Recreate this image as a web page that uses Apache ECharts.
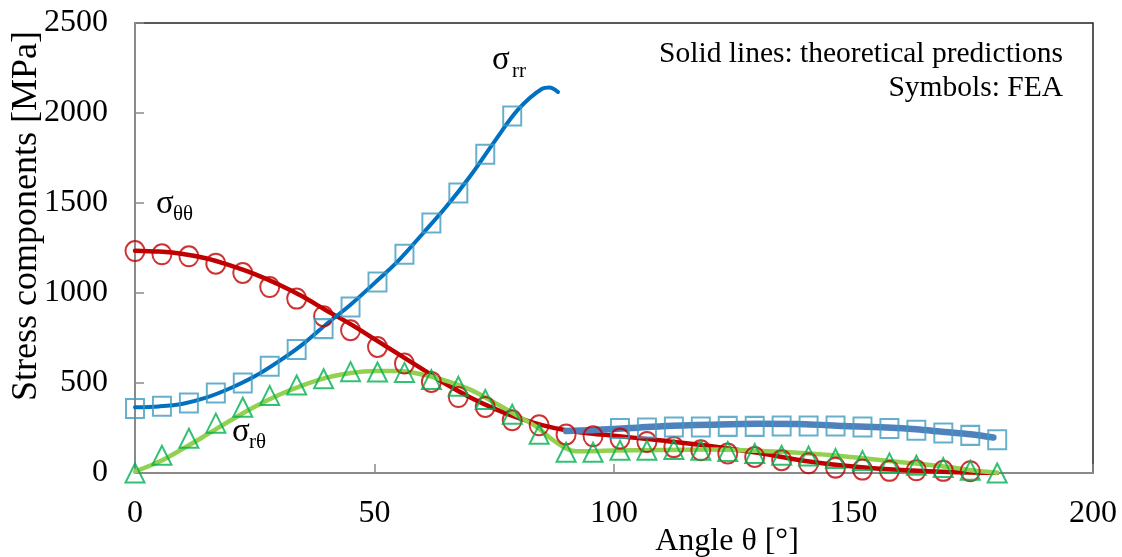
<!DOCTYPE html>
<html>
<head>
<meta charset="utf-8">
<script src="https://cdn.jsdelivr.net/npm/echarts@6/dist/echarts.min.js"></script>
<style>
html,body{margin:0;padding:0;background:#fff;}
#c{width:1122px;height:557px;}
</style>
</head>
<body>
<div id="c"></div>
<script>
// ---- Data ----
const feaAngles = [0, 5.625, 11.25, 16.875, 22.5, 28.125, 33.75, 39.375, 45, 50.625, 56.25, 61.875, 67.5, 73.125, 78.75, 84.375, 90,
  95.625, 101.25, 106.875, 112.5, 118.125, 123.75, 129.375, 135, 140.625, 146.25, 151.875, 157.5, 163.125, 168.75, 174.375, 180];
const sttFEA = [1233, 1215, 1204, 1163, 1111, 1033, 969, 871, 793, 700, 608, 506, 422, 367, 293, 265, 214,
  204, 191, 172, 144, 126, 108, 89, 71, 54, 30, 19, 12, 15, 12, 10, null];
const srrFEA = [358, 371, 389, 444, 500, 593, 686, 802, 922, 1061, 1215, 1389, 1556, 1771, 1983, null, null,
  null, 247, 250, 256, 256, 259, 259, 261, 261, 261, 256, 247, 237, 222, 209, 185];
const srtFEA = [0, 98, 193, 277, 365, 430, 489, 524, 563, 561, 559, 519, 482, 408, 326, 215, 115,
  115, 126, 126, 130, 126, 120, 108, 98, 94, 80, 69, 56, 43, 30, 15, 0];

const sttLineX = [0, 5, 10, 15, 20, 25, 30, 35, 40, 45, 50, 55, 60, 65, 70, 75, 80, 85, 90, 95, 100, 110, 120, 130, 140, 150, 160, 170, 180];
const sttLineY = [1235, 1230, 1217, 1192, 1152, 1105, 1047, 980, 902, 827, 744, 660, 577, 493, 420, 358, 306, 266, 237, 220, 207, 180, 150, 112, 67, 36, 16, 5, 0];

const srrLineX = [0, 5, 10, 15, 20, 25, 30, 35, 40, 45, 50, 55, 60, 65, 70, 75, 80, 85, 86.5, 88.3];
const srrLineY = [365, 370, 385, 420, 472, 537, 620, 715, 828, 935, 1055, 1180, 1328, 1480, 1650, 1840, 2020, 2135, 2142, 2117];

const srr2LineX = [90, 95, 100, 105, 110, 120, 130, 140, 148, 158, 163, 169, 174.4, 179.2];
const srr2LineY = [233, 238, 245, 252, 260, 268, 273, 271, 261, 252, 243, 228, 215, 197];

const srtLineX = [0, 5, 10, 15, 20, 25, 30, 35, 40, 45, 50, 55, 60, 65, 70, 75, 80, 84, 87, 90, 92, 95, 100, 110, 120, 130, 135, 140, 145, 150, 155, 160, 165, 170, 175, 180];
const srtLineY = [8, 62, 135, 213, 293, 368, 433, 487, 530, 556, 567, 567, 547, 512, 463, 392, 316, 253, 188, 136, 121, 121, 125, 128, 130, 124, 118, 110, 100, 87, 74, 60, 47, 33, 14, 2];

const xTicks = [0, 50, 100, 150, 200];
const yTicks = [0, 500, 1000, 1500, 2000, 2500];

// ---- helpers ----
const pairs = (xs, ys) => xs.map((x, i) => [x, ys[i]]).filter(p => p[1] !== null);
const FONT = '"Liberation Serif", "Times New Roman", serif';

const chart = echarts.init(document.getElementById('c'), null, {renderer: 'canvas'});

function lineSeries(name, xs, ys, color, width) {
  return {
    name, type: 'line', data: pairs(xs, ys), smooth: 0.35, showSymbol: false,
    lineStyle: {color, width, cap: 'round', join: 'round'}, itemStyle: {color}, z: 3
  };
}
function scatterSeries(name, ys, symbol, color, size) {
  return {
    name, type: 'scatter', data: pairs(feaAngles, ys), symbol, symbolSize: size,
    itemStyle: {color: 'rgba(0,0,0,0)', borderColor: color, borderWidth: 2}, z: 4
  };
}

const option = {
  animation: false,
  backgroundColor: '#fff',
  grid: {left: 135, right: 29, top: 23, bottom: 84, containLabel: false, outerBoundsMode: 'none',
    show: true, borderColor: '#222', borderWidth: 1.5},
  xAxis: {
    type: 'value', min: 0, max: 200, interval: 50,
    name: 'Angle θ [°]', nameLocation: 'middle', nameGap: 53, nameMoveOverlap: false,
    nameTextStyle: {fontFamily: FONT, fontSize: 32, color: '#000', padding: [0, 0, 0, 226]},
    axisLine: {show: true, lineStyle: {color: '#8a8a8a', width: 2}},
    axisTick: {show: true, inside: true, length: 9, lineStyle: {color: '#8a8a8a', width: 1.5}},
    axisLabel: {fontFamily: FONT, fontSize: 32, color: '#000', margin: 25,
      formatter: v => xTicks.includes(v) ? String(v) : ''},
    splitLine: {show: false}
  },
  yAxis: {
    type: 'value', min: 0, max: 2500, interval: 500,
    name: 'Stress components [MPa]', nameLocation: 'middle', nameGap: 90, nameMoveOverlap: false,
    nameTextStyle: {fontFamily: FONT, fontSize: 36, color: '#000', padding: [0, 0, 0, 64]},
    axisLine: {show: true, lineStyle: {color: '#8a8a8a', width: 2}},
    axisTick: {show: true, inside: true, length: 9, lineStyle: {color: '#8a8a8a', width: 1.5}},
    axisLabel: {fontFamily: FONT, fontSize: 32, color: '#000', margin: 27,
      formatter: v => yTicks.includes(v) ? String(v) : ''},
    splitLine: {show: false}
  },
  graphic: [
    {type: 'text', style: {text: 'Solid lines: theoretical predictions', x: 1063, y: 54, align: 'right', verticalAlign: 'middle', font: '29.5px ' + FONT, fill: '#000'}},
    {type: 'text', style: {text: 'Symbols: FEA', x: 1063, y: 88, align: 'right', verticalAlign: 'middle', font: '29.5px ' + FONT, fill: '#000'}},
    {type: 'text', style: {text: 'σ', x: 492, y: 60, align: 'left', verticalAlign: 'middle', font: '33px ' + FONT, fill: '#000'}},
    {type: 'text', style: {text: 'rr', x: 512, y: 71, align: 'left', verticalAlign: 'middle', font: '21px ' + FONT, fill: '#000'}},
    {type: 'text', style: {text: 'σ', x: 156, y: 204, align: 'left', verticalAlign: 'middle', font: '33px ' + FONT, fill: '#000'}},
    {type: 'text', style: {text: 'θθ', x: 173, y: 214, align: 'left', verticalAlign: 'middle', font: '21px ' + FONT, fill: '#000'}},
    {type: 'text', style: {text: 'σ', x: 232, y: 432, align: 'left', verticalAlign: 'middle', font: '33px ' + FONT, fill: '#000'}},
    {type: 'text', style: {text: 'rθ', x: 249, y: 442, align: 'left', verticalAlign: 'middle', font: '21px ' + FONT, fill: '#000'}}
  ],
  series: [
    scatterSeries('σθθ FEA', sttFEA, 'circle', '#C00000', [19, 20]),
    lineSeries('σθθ theory', sttLineX, sttLineY, '#C00000', 4.5),
    scatterSeries('σrr FEA', srrFEA, 'rect', '#3F9BBF', [18, 19]),
    lineSeries('σrr theory', srrLineX, srrLineY, '#0070C0', 4),
    lineSeries('σrr theory (θ>90°)', srr2LineX, srr2LineY, '#4F81BD', 6.5),
    lineSeries('σrθ theory', srtLineX, srtLineY, '#92D050', 4.5),
    scatterSeries('σrθ FEA', srtFEA, 'triangle', '#00B050', [19, 19])
  ]
};
chart.setOption(option);
</script>
</body>
</html>
